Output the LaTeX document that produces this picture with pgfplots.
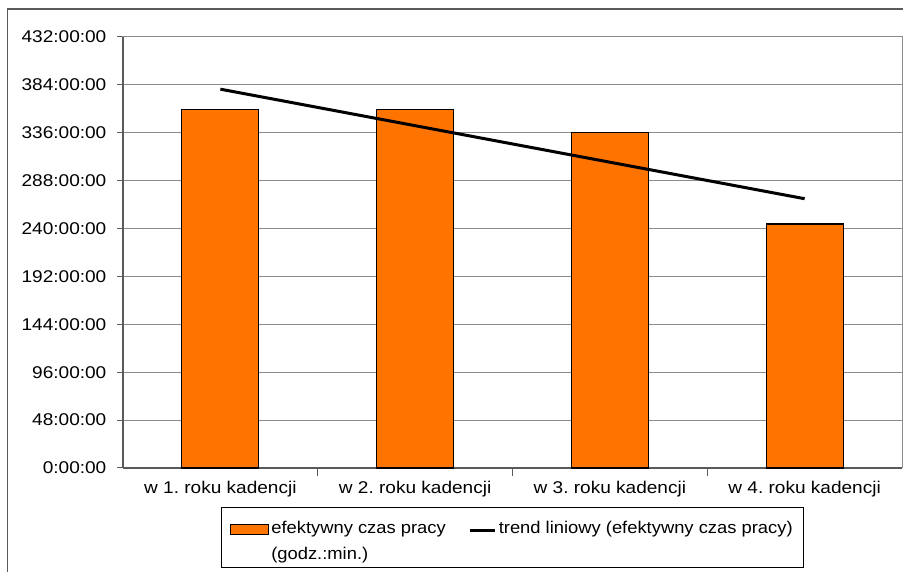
\documentclass[border=0pt]{standalone}
\usepackage{fontspec}
\setmainfont{Liberation Sans}
\usepackage{graphicx}
\usepackage{pgfplots}
\pgfplotsset{compat=1.18}
\definecolor{barorange}{RGB}{255,116,0}
\definecolor{gridgray}{RGB}{140,140,140}
\definecolor{axisgray}{RGB}{90,90,90}
\newcommand{\lbl}{\fontsize{17}{20}\selectfont}
\frenchspacing
\begin{document}
\begin{tikzpicture}
\begin{axis}[
    at={(0,0)}, anchor=origin,
    width=779pt, height=431pt, scale only axis,
    xmin=0, xmax=4, ymin=0, ymax=432,
    xtick={0.5,1.5,2.5,3.5},
    xticklabels={w 1. roku kadencji, w 2. roku kadencji, w 3. roku kadencji, w 4. roku kadencji},
    major x tick style={draw=none},
    minor xtick={1,2,3},
    minor tick length=8pt,
    major tick length=6pt,
    ytick={0,48,96,144,192,240,288,336,384,432},
    yticklabels={0:00:00,48:00:00,96:00:00,144:00:00,192:00:00,240:00:00,288:00:00,336:00:00,384:00:00,432:00:00},
    tick align=outside, tick pos=left,
    tick style={axisgray, line width=1pt},
    ymajorgrids,
    grid style={gridgray, line width=1pt},
    axis line style={gridgray, line width=1pt},
    ticklabel style={font=\lbl, xscale=1.12, text=black},
    yticklabel style={xshift=-6pt},
    xticklabel style={yshift=-4pt},
    legend style={at={(rel axis cs:0.5,0)}, anchor=north, yshift=-39pt,
        draw=black, line width=0.8pt, font=\lbl,
        inner xsep=9pt, inner ysep=4pt,
        legend columns=2,
        nodes={text depth=28pt, text height=20pt, inner xsep=2pt},
        /tikz/every even column/.append style={column sep=21pt}},
    legend cell align=left,
    clip=false,
]
\coordinate (O) at (rel axis cs:0,0);
\draw[axisgray, line width=1.2pt] (rel axis cs:0,0) -- (rel axis cs:0,1);
\draw[axisgray, line width=1.2pt] (rel axis cs:0,0) -- (rel axis cs:1,0);
\addplot[ybar, bar width=77pt, fill=barorange, draw=black, line width=1.2pt,
    legend image code/.code={\draw[fill=barorange, draw=black, line width=1pt] (10pt,3pt) rectangle (48pt,13pt);}]
    coordinates {(0.5,359.2) (1.5,359.0) (2.5,336.5) (3.5,244.6)};
\addlegendentry{\scalebox{1.08}[1]{\begin{tabular}[t]{@{}l@{}}efektywny czas pracy\\[6pt](godz.:min.)\end{tabular}}}
\addplot[black, line width=3pt, no marks,
    legend image code/.code={\draw[black, line width=3pt] (0pt,6.5pt) -- (25pt,6.5pt);}]
    coordinates {(0.5,379.7) (1.5,343.1) (2.5,306.5) (3.5,269.9)};
\addlegendentry{\scalebox{1.08}[1]{trend liniowy (efektywny czas pracy)}}
\end{axis}
\pgfresetboundingbox
\path[use as bounding box] ([shift={(-123pt,-104pt)}]O) rectangle ([shift={(780pt,468pt)}]O);
% outer chart frame (cropped at right and bottom)
\draw[axisgray, line width=1.2pt] ([shift={(-115.5pt,-140pt)}]O) -- ([shift={(-115.5pt,459pt)}]O) -- ([shift={(820pt,459pt)}]O);
\end{tikzpicture}
\end{document}
